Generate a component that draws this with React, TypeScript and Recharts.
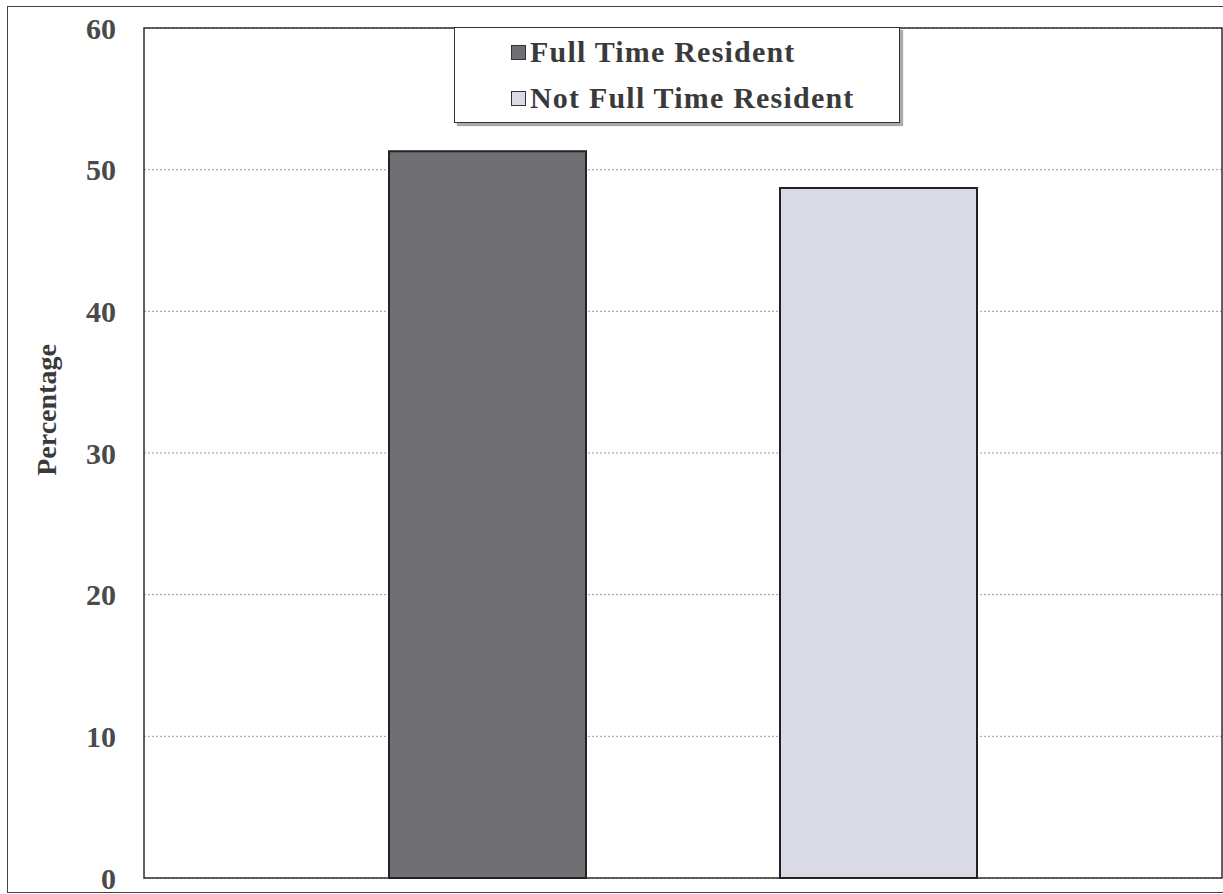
import React from "react";
import {
  BarChart,
  Bar,
  XAxis,
  YAxis,
  CartesianGrid,
  Legend,
  ReferenceArea,
  Label,
} from "recharts";

// residency split, percent of respondents
const categories = ["Residency"];
const fullTimeResident = [51.3];
const notFullTimeResident = [48.7];
const yTicks = [0, 10, 20, 30, 40, 50, 60];

const seriesNames = ["Full Time Resident", "Not Full Time Resident"];
const seriesColors = ["#6f6f74", "#dadae6"];

const data = categories.map((name, i) => ({
  name,
  full: fullTimeResident[i],
  notFull: notFullTimeResident[i],
}));

const serif = '"Liberation Serif", "Times New Roman", serif';

function renderLegend(props: any) {
  const items = props.payload || [];
  return (
    <div
      style={{
        width: 446,
        height: 96,
        boxSizing: "border-box",
        background: "#fff",
        border: "1px solid #333",
        boxShadow: "3px 3px 1px #aaa",
        paddingTop: 1,
        paddingLeft: 56,
      }}
    >
      {items.map((it: any) => (
        <div
          key={it.value}
          style={{
            display: "flex",
            alignItems: "center",
            height: 46,
            fontFamily: serif,
            fontWeight: 700,
            fontSize: 30,
            letterSpacing: 1.2,
            color: "#3a3a3a",
          }}
        >
          <span
            style={{
              display: "inline-block",
              width: 13,
              height: 13,
              marginRight: 4,
              border: "1.5px solid #333",
              background: it.color,
            }}
          />
          {it.value}
        </div>
      ))}
    </div>
  );
}

function renderYLabel() {
  return (
    <text
      x={46}
      y={410}
      transform="rotate(-90, 46, 410)"
      textAnchor="middle"
      dominantBaseline="central"
      fontFamily={serif}
      fontWeight={700}
      fontSize={28}
      fill="#3a3a3a"
    >
      Percentage
    </text>
  );
}

export default function App() {
  return (
    <div
      style={{
        position: "absolute",
        left: 0,
        top: 0,
        width: 1223,
        height: 894,
        background: "#fff",
        overflow: "hidden",
      }}
    >
      <div
        style={{
          position: "absolute",
          left: 7,
          top: 6,
          width: 1230,
          height: 885,
          border: "1.5px solid #444",
        }}
      />
      <BarChart
        width={1223}
        height={894}
        data={data}
        margin={{ top: 28, right: 1, bottom: 16, left: 44 }}
        barSize={197}
        barGap={194}
        style={{ position: "absolute", left: 0, top: 0 }}
      >
        <CartesianGrid
          vertical={false}
          stroke="#9a9a9a"
          strokeDasharray="2 2"
        />
        <XAxis dataKey="name" hide />
        <YAxis
          domain={[0, 60]}
          ticks={yTicks}
          interval={0}
          width={100}
          tickLine={false}
          axisLine={false}
          tickSize={0}
          tickMargin={28}
          tick={{
            fontFamily: serif,
            fontWeight: 700,
            fontSize: 30,
            fill: "#4a4a4a",
          }}
        >
          <Label content={renderYLabel} />
        </YAxis>
        <ReferenceArea
          y1={0}
          y2={60}
          fill="none"
          stroke="#2e2e2e"
          strokeWidth={1.5}
        />
        <Legend
          layout="horizontal"
          verticalAlign="middle"
          align="center"
          content={renderLegend}
          wrapperStyle={{ position: "absolute", left: 454, top: 27, width: 446 }}
        />
        <Bar
          dataKey="full"
          name={seriesNames[0]}
          fill={seriesColors[0]}
          stroke="#222"
          strokeWidth={2}
          isAnimationActive={false}
        />
        <Bar
          dataKey="notFull"
          name={seriesNames[1]}
          fill={seriesColors[1]}
          stroke="#222"
          strokeWidth={2}
          isAnimationActive={false}
        />
      </BarChart>
    </div>
  );
}
